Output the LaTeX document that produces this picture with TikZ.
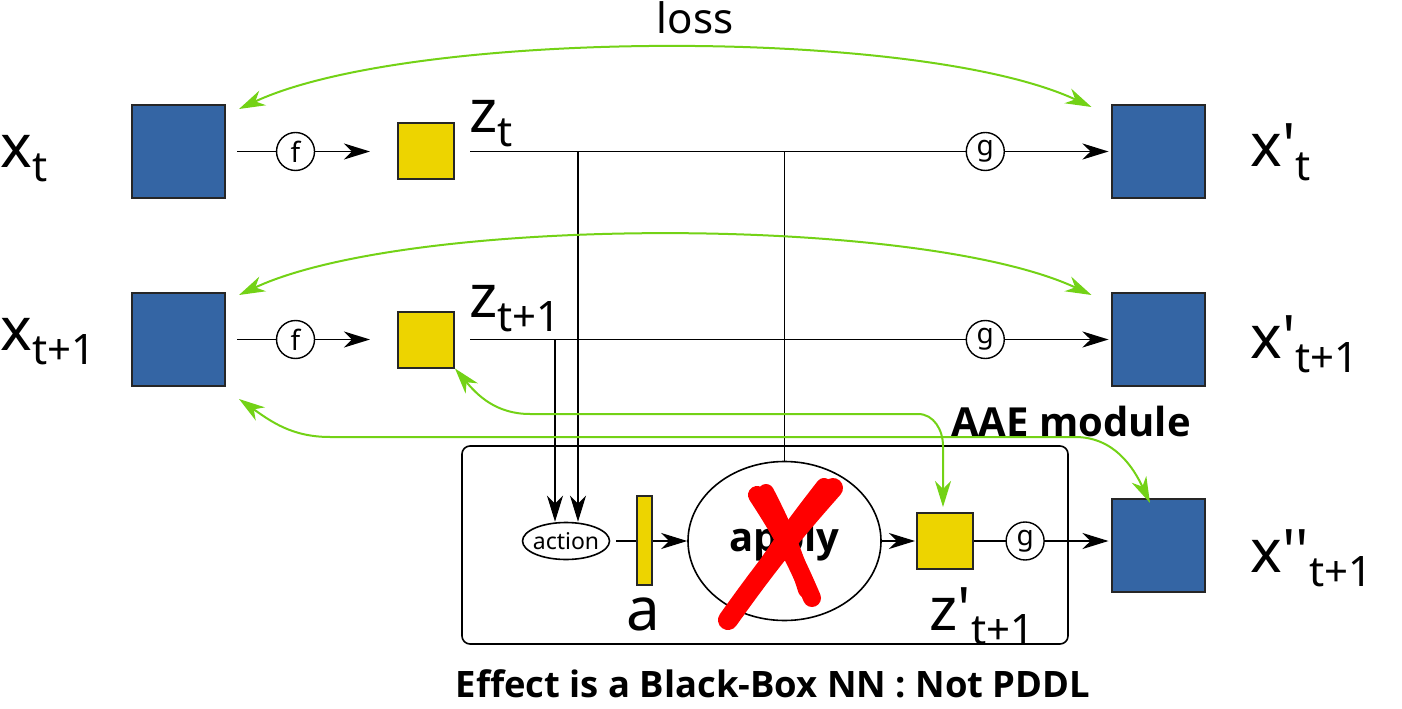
\documentclass[tikz,border=0pt]{standalone}
\usepackage{fontspec}
\setmainfont{Noto Sans}
\newfontfamily\boldsans{Open Sans}
\usetikzlibrary{arrows.meta,calc,shapes.geometric}
\definecolor{boxblue}{HTML}{3465A4}
\definecolor{boxyellow}{HTML}{EDD400}
\definecolor{lossgreen}{HTML}{73D216}
\newcommand{\lbl}[2]{#1\raisebox{-7pt}{\fontsize{21}{21}\selectfont #2}}
\newcommand{\pr}{\textquotesingle}
\tikzset{
	bluebox/.style={draw=black!85, line width=1pt, fill=boxblue, minimum size=46.5pt, inner sep=0pt},
	yelbox/.style={draw=black!85, line width=1pt, fill=boxyellow, minimum size=28pt, inner sep=0pt},
	fn/.style={circle, draw, fill=white, line width=0.7pt, minimum size=19pt, inner sep=0pt, font=\fontsize{14}{14}\selectfont},
	arr/.style={line width=0.8pt, -{Stealth[length=13pt,width=8pt,inset=4pt]}},
	lossarr/.style={lossgreen, line width=1pt, {Stealth[length=13pt,width=8pt,inset=4pt]}-{Stealth[length=13pt,width=8pt,inset=4pt]}},
	big/.style={font=\fontsize{30}{30}\selectfont, inner sep=0pt, anchor=base west},
	bold/.style={font=\boldsans\bfseries\fontsize{20}{20}\selectfont, inner sep=0pt, anchor=base},
}

\begin{document}
\begin{tikzpicture}[x=0.5pt, y=0.5pt]
			%%%%% START %%%%%
			\useasboundingbox (0,0) rectangle (1402,708);
			
			\node[bluebox] (xt) at (178.5, 556.5) {};
			\node[bluebox] (xt1) at (178.5, 368.5) {};
			\node[bluebox] (xpt) at (1158, 556.5) {};
			\node[bluebox] (xpt1) at (1158, 368.5) {};
			\node[bluebox] (xpp) at (1158, 162.5) {};
			
			\node[yelbox] (zt) at (426, 556.5) {};
			\node[yelbox] (zt1) at (426, 368.5) {};
			\node[yelbox] (zp) at (945, 167) {};
			
			\node[draw, line width=0.8pt, rounded corners=4pt, minimum width=303pt, minimum height=99pt] (effect) at (765, 163) {};
			\node[ellipse, draw, line width=0.8pt, minimum width=96.5pt, minimum height=79.5pt, inner sep=0pt, font=\boldsans\bfseries\fontsize{20}{20}\selectfont] (apply) at (784.5, 167) {apply};
			\node[ellipse, draw, line width=0.8pt, minimum width=42pt, minimum height=18.5pt, inner xsep=-1.2pt, inner ysep=0pt, font=\fontsize{11.5}{11.5}\selectfont] (action) at (566, 167) {action};
			
			\draw[arr] ($(xt.east)+(11,0)$) -- node[fn, pos=0.44] {f} ($(zt.west)+(-27,0)$);
			\draw[arr] ($(xt1.east)+(11,0)$) -- node[fn, pos=0.44] {f} ($(zt1.west)+(-27,0)$);
			\draw[arr] ($(zt.east)+(15,0)$) -- node[fn, pos=0.807] {g} ($(xpt.west)+(-2,0)$);
			\draw[arr] ($(zt1.east)+(15,0)$) -- node[fn, pos=0.807] {g} ($(xpt1.west)+(-2,0)$);
			
			\coordinate (jt) at (578, 556.5);
			\coordinate (jt1) at (555, 368.5);
			\draw[arr] (jt) -- (jt |- action.north);
			\draw[arr] (jt1) -- (jt1 |- action.north);
			\draw[line width=0.8pt] (apply.north |- zt) -- (apply.north);
			
			\draw[arr] ($(action.east)+(6,0)$) -- (apply.west);
			\node[draw=black!85, line width=1pt, fill=boxyellow, minimum width=7.5pt, minimum height=44.5pt, inner sep=0pt] (a) at (644.5, 168) {};
			\draw[arr] (apply.east) -- ($(zp.west)+(-1,0)$);
			\draw[arr] (zp.east) -- node[fn, pos=0.38] {g} ($(zp -| xpp.west)+(-2,0)$);
			
			% the red cross over apply
			\draw[red, line width=9pt, line cap=round] (757,213) to[bend left=5] (812,110);
			\draw[red, line width=8pt, line cap=round] (766,216) to[bend left=5] (806,118);
			\draw[red, line width=10pt, line cap=round] (833,220) to[bend right=3] (728,88);
			\draw[red, line width=8pt, line cap=round] (824,222) to[bend right=3] (736,96);
			
			% green loss arrows
			\draw[lossarr] ($(xt.north east)+(13,-5)$) to[out=25, in=155, looseness=0.57] ($(xpt.north west)+(-19,-3)$);
			\draw[lossarr] ($(xt1.north east)+(13,-3)$) to[out=25, in=155, looseness=0.57] ($(xpt1.north west)+(-19,-3)$);
			\draw[lossarr] ($(xt1.south east)+(13,-12)$) to[out=-35, in=180] (330,271) -- (1075,271) to[out=0, in=115] ($(xpp.north)+(-8,-5)$);
			\draw[lossarr] (zt1.south east) to[out=-50, in=180] (530,294) -- (918,294) to[out=0, in=90] (943,262) -- ($(zp.north)+(-2,5)$);
			
			\node[big] (lxt) at (0, 540) {\lbl{x}{t}};
			\node[big] (lxt1) at (0, 358) {\lbl{x}{t+1}};
			\node[big] (lzt) at (469, 575) {\lbl{z}{t}};
			\node[big] (lzt1) at (469, 391) {\lbl{z}{t+1}};
			\node[big] (lxpt) at (1250, 541) {\lbl{x\pr}{t}};
			\node[big] (lxpt1) at (1250, 350) {\lbl{x\pr}{t+1}};
			\node[big] (lxpp) at (1250, 136) {\lbl{x\pr\pr}{t+1}};
			\node[big, anchor=base] (la) at (643, 78) {a};
			\node[big] (lzp) at (929, 78) {\lbl{z\pr}{t+1}};
			
			\node[font=\fontsize{21}{21}\selectfont, inner sep=0pt, anchor=base] (loss) at (695, 674) {loss};
			\node[bold] (aae) at (1071, 272) {AAE module};
			\node[bold, font=\boldsans\bfseries\fontsize{18.2}{18.2}\selectfont] (caption) at (773, 11) {Effect is a Black-Box NN : Not PDDL};
			
			%%%%% END %%%%%
\end{tikzpicture}
\end{document}
